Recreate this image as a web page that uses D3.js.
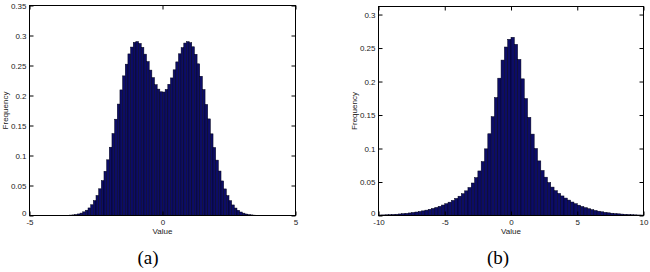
<!DOCTYPE html>
<html>
<head>
<meta charset="utf-8">
<script src="https://cdn.jsdelivr.net/npm/d3@7"></script>
<style>
  body { margin: 0; background: #fff; }
  .ax text { font-family: "Liberation Sans", Arial, sans-serif; font-size: 8px; fill: #222; }
  .lbl { font-family: "Liberation Sans", Arial, sans-serif; font-size: 8px; fill: #222; }
  .cap { font-family: "Liberation Serif", "DejaVu Serif", "Times New Roman", serif; font-size: 19px; fill: #000; }
</style>
</head>
<body>
<script>
// panel (a): bimodal histogram, bins of 0.1 starting at -4
var startA = -4, widthA = 0.1;
var freqA = [
  0, .0001, .0001, .0002, .0004, .0007, .0010, .0017, .0026, .0040,
  .0061, .0088, .0126, .0179, .0248, .0334, .0445, .0581, .0737, .0928,
  .1138, .1366, .1605, .1857, .2093, .2327, .2522, .2693, .2807, .2885,
  .2899, .2868, .2802, .2689, .2566, .2423, .2298, .2180, .2106, .2062,
  .2058, .2101, .2187, .2293, .2428, .2560, .2695, .2797, .2874, .2897,
  .2880, .2812, .2687, .2528, .2321, .2099, .1851, .1610, .1361, .1133,
  .0923, .0741, .0576, .0443, .0332, .0247, .0176, .0124, .0086, .0058,
  .0039, .0025, .0016, .0010, .0006, .0004, .0002, .0001, .0001, 0
];
var xTicksA = [-5, 0, 5];
var yTicksA = [0, 0.05, 0.1, 0.15, 0.2, 0.25, 0.3, 0.35];

// panel (b): heavy tailed histogram, bins of 0.25 starting at -10
var startB = -10, widthB = 0.25;
var freqB = [
  .0008, .0009, .0011, .0013, .0016, .0019, .0023, .0027, .0032, .0038,
  .0045, .0052, .0060, .0069, .0080, .0092, .0105, .0120, .0137, .0156,
  .0176, .0199, .0225, .0255, .0288, .0325, .0368, .0418, .0485, .0565,
  .0665, .0805, .0995, .1220, .1475, .1760, .2050, .2320, .2515, .2630,
  .2660, .2555, .2330, .2040, .1745, .1465, .1215, .1000, .0815, .0672,
  .0572, .0492, .0424, .0370, .0330, .0292, .0260, .0230, .0201, .0176,
  .0154, .0134, .0117, .0101, .0087, .0075, .0064, .0055, .0047, .0040,
  .0034, .0029, .0025, .0021, .0018, .0015, .0012, .0010, .0008, .0007
];
var xTicksB = [-10, -5, 0, 5, 10];
var yTicksB = [0, 0.05, 0.1, 0.15, 0.2, 0.25, 0.3];

var svg = d3.select("body").append("svg")
    .attr("width", 650)
    .attr("height", 272);

var fmt = function(d) { return String(d); };

//draws one histogram panel
var drawHist = function(p) {
    var x = d3.scaleLinear().domain(p.xDomain).range([p.left, p.right]);
    var y = d3.scaleLinear().domain(p.yDomain).range([p.bottom, p.top]);

    var g = svg.append("g");

    g.selectAll("rect.bar")
        .data(p.values)
        .enter().append("rect")
        .attr("class", "bar")
        .attr("x", function(d, i) { return x(p.start + i * p.bin); })
        .attr("width", function(d, i) { return x(p.start + (i + 1) * p.bin) - x(p.start + i * p.bin); })
        .attr("y", function(d) { return y(d); })
        .attr("height", function(d) { return y(0) - y(d); })
        .style("fill", "#0c0c66")
        .style("stroke", "#000018")
        .style("stroke-width", 0.5);

    // axes with inside ticks, MATLAB style
    g.append("g").attr("class", "ax")
        .attr("transform", "translate(0," + p.bottom + ")")
        .call(d3.axisBottom(x).tickValues(p.xTicks).tickSize(-4).tickPadding(4).tickFormat(fmt));
    g.append("g").attr("class", "ax")
        .attr("transform", "translate(0," + p.top + ")")
        .call(d3.axisTop(x).tickValues(p.xTicks).tickSize(-4).tickFormat(""));
    var yAx = g.append("g").attr("class", "ax")
        .attr("transform", "translate(" + p.left + ",0)")
        .call(d3.axisLeft(y).tickValues(p.yTicks).tickSize(-4).tickPadding(3).tickFormat(fmt));
    // the zero label sits a little high, like the original
    yAx.selectAll(".tick text").filter(function(d) { return d === 0; })
        .attr("dy", "0.05em");
    g.append("g").attr("class", "ax")
        .attr("transform", "translate(" + p.right + ",0)")
        .call(d3.axisRight(y).tickValues(p.yTicks).tickSize(-4).tickFormat(""));
    g.selectAll(".ax .domain").remove();
    g.selectAll(".ax line").style("stroke", "#000");

    g.append("rect")
        .attr("x", p.left).attr("y", p.top)
        .attr("width", p.right - p.left).attr("height", p.bottom - p.top)
        .style("fill", "none").style("stroke", "#000").style("stroke-width", 1);

    g.append("text").attr("class", "lbl")
        .attr("text-anchor", "middle")
        .attr("x", (p.left + p.right) / 2)
        .attr("y", p.bottom + 18.5)
        .text("Value");

    g.append("text").attr("class", "lbl")
        .attr("text-anchor", "middle")
        .attr("transform", "translate(" + (p.labelX) + "," + ((p.top + p.bottom) / 2) + ") rotate(-90)")
        .text("Frequency");

    g.append("text").attr("class", "cap")
        .attr("text-anchor", "middle")
        .attr("x", p.capX)
        .attr("y", 264)
        .text(p.caption);
};

drawHist({
    left: 29.5, right: 295.5, top: 5.5, bottom: 215.5,
    xDomain: [-5, 5], yDomain: [0, 0.35],
    xTicks: xTicksA, yTicks: yTicksA,
    start: startA, bin: widthA, values: freqA,
    labelX: 8, capX: 148, caption: "(a)"
});

drawHist({
    left: 378.5, right: 643.5, top: 6.5, bottom: 215.5,
    xDomain: [-10, 10], yDomain: [0, 0.312],
    xTicks: xTicksB, yTicks: yTicksB,
    start: startB, bin: widthB, values: freqB,
    labelX: 357, capX: 498, caption: "(b)"
});
</script>
</body>
</html>
